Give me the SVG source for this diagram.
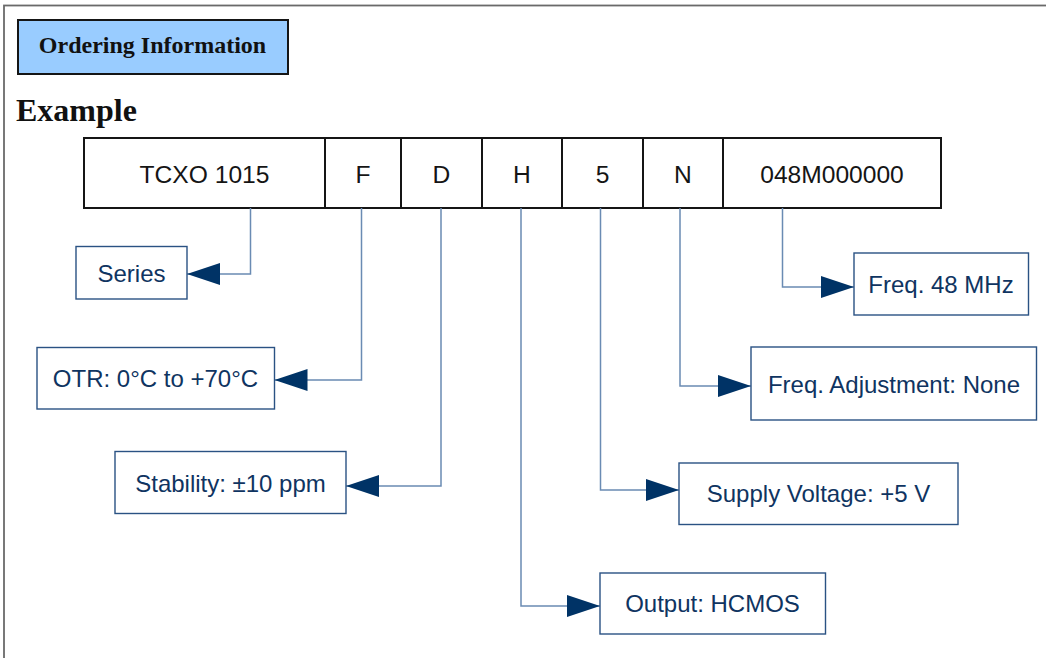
<svg xmlns="http://www.w3.org/2000/svg" width="1046" height="658" viewBox="0 0 1046 658">
  <defs>
    <style>
      .frame { fill: #ffffff; stroke: #6a6a6a; stroke-width: 1.8; }
      .hdr { fill: #99ccff; stroke: #151515; stroke-width: 2; }
      .hdrtxt { font-family: "Liberation Serif", "Times New Roman", serif; font-weight: bold; font-size: 24px; fill: #111111; }
      .title { font-family: "Liberation Serif", "Times New Roman", serif; font-weight: bold; font-size: 32px; fill: #111111; }
      .cell { fill: #ffffff; stroke: #151515; stroke-width: 2; }
      .celltxt { font-family: "Liberation Sans", Arial, sans-serif; font-size: 24.6px; fill: #151515; text-anchor: middle; }
      .lbl { fill: #ffffff; stroke: #2a5283; stroke-width: 1.4; }
      .lbltxt { font-family: "Liberation Sans", Arial, sans-serif; font-size: 24px; fill: #0f3461; text-anchor: middle; }
      .conn { fill: none; stroke: #6a8bb3; stroke-width: 1.5; marker-end: url(#arrow); }
    </style>
    <marker id="arrow" markerUnits="userSpaceOnUse" markerWidth="34" markerHeight="22" refX="33" refY="11" orient="auto" viewBox="0 0 34 22">
      <path d="M0,0 L33,11 L0,22 Z" fill="#003366"/>
    </marker>
  </defs>

  <rect class="frame" x="4" y="5.5" width="1100" height="700"/>

  <g id="header">
    <rect class="hdr" x="18" y="20" width="270" height="54"/>
    <text class="hdrtxt" x="152.5" y="53" text-anchor="middle">Ordering Information</text>
  </g>

  <g id="title">
    <text class="title" x="16" y="121">Example</text>
  </g>

  <g id="code">
    <rect class="cell" x="84" y="138" width="857" height="70"/>
    <line x1="325" y1="138" x2="325" y2="208" stroke="#151515" stroke-width="2"/>
    <line x1="401" y1="138" x2="401" y2="208" stroke="#151515" stroke-width="2"/>
    <line x1="482" y1="138" x2="482" y2="208" stroke="#151515" stroke-width="2"/>
    <line x1="562" y1="138" x2="562" y2="208" stroke="#151515" stroke-width="2"/>
    <line x1="643" y1="138" x2="643" y2="208" stroke="#151515" stroke-width="2"/>
    <line x1="723" y1="138" x2="723" y2="208" stroke="#151515" stroke-width="2"/>
    <text class="celltxt" x="204.5" y="183">TCXO 1015</text>
    <text class="celltxt" x="363" y="183">F</text>
    <text class="celltxt" x="441.5" y="183">D</text>
    <text class="celltxt" x="522" y="183">H</text>
    <text class="celltxt" x="602.5" y="183">5</text>
    <text class="celltxt" x="683" y="183">N</text>
    <text class="celltxt" x="832" y="183">048M000000</text>
  </g>

  <g id="connectors">
    <path class="conn" d="M250.5,208 V274 H187"/>
    <path class="conn" d="M361.5,208 V380 H274.5"/>
    <path class="conn" d="M441,208 V486 H346"/>
    <path class="conn" d="M521,208 V606 H600"/>
    <path class="conn" d="M600.5,208 V490 H679"/>
    <path class="conn" d="M680,208 V386 H751"/>
    <path class="conn" d="M782.5,208 V287 H854"/>
  </g>

  <g id="series">
    <rect class="lbl" x="76" y="246.5" width="111" height="52.5"/>
    <text class="lbltxt" x="131.5" y="281.5">Series</text>
  </g>
  <g id="otr">
    <rect class="lbl" x="37" y="347.5" width="237.5" height="61.5"/>
    <text class="lbltxt" x="155.5" y="387">OTR: 0°C to +70°C</text>
  </g>
  <g id="stability">
    <rect class="lbl" x="115" y="451.5" width="231" height="62"/>
    <text class="lbltxt" x="230.5" y="491.5">Stability: ±10 ppm</text>
  </g>
  <g id="output">
    <rect class="lbl" x="600" y="573" width="225.5" height="61"/>
    <text class="lbltxt" x="712.5" y="612">Output: HCMOS</text>
  </g>
  <g id="supply">
    <rect class="lbl" x="679" y="463" width="279" height="61.5"/>
    <text class="lbltxt" x="818.5" y="502">Supply Voltage: +5 V</text>
  </g>
  <g id="freqadj">
    <rect class="lbl" x="751" y="347" width="285.5" height="73"/>
    <text class="lbltxt" x="894" y="392.5">Freq. Adjustment: None</text>
  </g>
  <g id="freq">
    <rect class="lbl" x="854" y="253" width="174.5" height="62"/>
    <text class="lbltxt" x="941" y="293">Freq. 48 MHz</text>
  </g>
</svg>
